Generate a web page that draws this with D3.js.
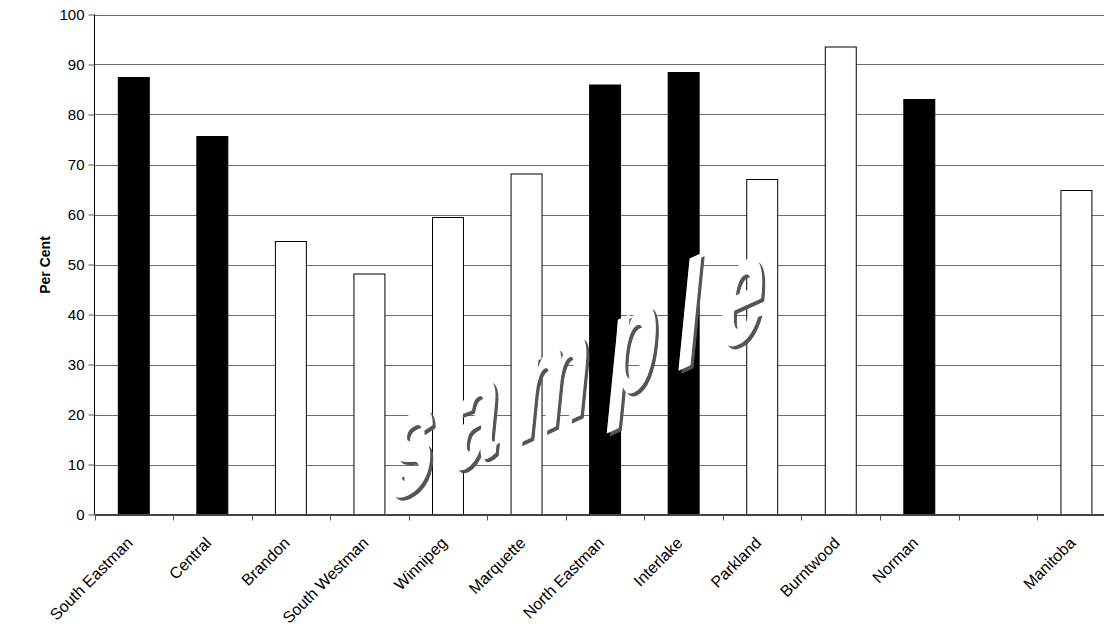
<!DOCTYPE html>
<html>
<head>
<meta charset="utf-8">
<script src="https://cdn.jsdelivr.net/npm/d3@7"></script>
<style>
  html, body { margin: 0; padding: 0; background: #fff; }
  svg { display: block; }
  text { font-family: "Liberation Sans", Arial, sans-serif; }
</style>
</head>
<body>
<svg id="chart" width="1104" height="627"></svg>
<script>
// Regions in display order; the blank slot separates the province total
const regions = ["South Eastman", "Central", "Brandon", "South Westman", "Winnipeg",
  "Marquette", "North Eastman", "Interlake", "Parkland", "Burntwood", "Norman", "", "Manitoba"];
// Per cent value for each region (null = no bar)
const percent = [87.5, 75.7, 54.7, 48.2, 59.5, 68.2, 86.0, 88.5, 67.1, 93.6, 83.1, null, 64.9];
// Bar style group: "dark" = solid black, "light" = white outlined
const barGroup = ["dark", "dark", "light", "light", "light", "light", "dark", "dark",
  "light", "light", "dark", "light", "light"];
const yTicks = [0, 10, 20, 30, 40, 50, 60, 70, 80, 90, 100];
const yTitle = "Per Cent";
const watermark = "sample";

const svg = d3.select("#chart");
const keys = regions.map((r, i) => i);

const plotLeft = 94.5, plotRight = 1115.7, plotTop = 14.5, plotBottom = 514.5;

const y = d3.scaleLinear().domain([0, 100]).range([plotBottom, plotTop]);
const xSlot = d3.scaleBand().domain(keys).range([plotLeft, plotRight]).padding(0);
const xBar = d3.scaleBand().domain(keys).range([plotLeft, plotRight])
  .paddingInner(0.593).paddingOuter(0.2965);

// horizontal gridlines
svg.append("g").selectAll("line").data(yTicks.filter(d => d > 0)).join("line")
  .attr("x1", plotLeft).attr("x2", 1104)
  .attr("y1", d => Math.round(y(d)) + 0.5).attr("y2", d => Math.round(y(d)) + 0.5)
  .attr("stroke", "#6e6e6e").attr("stroke-width", 1);

// y axis with outward ticks
const yAxis = svg.append("g").attr("transform", `translate(${plotLeft},0)`)
  .call(d3.axisLeft(y).tickValues(yTicks).tickSize(6).tickPadding(4));
yAxis.select(".domain").attr("stroke", "#000").attr("d", `M0,${plotTop}V${plotBottom}`);
yAxis.selectAll(".tick line").attr("stroke", "#555");
yAxis.selectAll(".tick text").attr("font-size", 15).attr("fill", "#000")
  .attr("font-family", "'Liberation Sans', Arial, sans-serif");

// y axis title
svg.append("text")
  .attr("transform", `translate(50,265) rotate(-90)`)
  .attr("text-anchor", "middle")
  .attr("font-size", 14).attr("font-weight", "bold")
  .text(yTitle);

// bars
svg.append("g").selectAll("rect")
  .data(keys.filter(i => percent[i] !== null)).join("rect")
  .attr("x", i => xBar(i) + 0.5)
  .attr("width", xBar.bandwidth() - 1)
  .attr("y", i => y(percent[i]) + 0.5)
  .attr("height", i => y(0) - y(percent[i]) - 0.5)
  .attr("fill", i => barGroup[i] === "dark" ? "#000" : "#fff")
  .attr("stroke", "#000").attr("stroke-width", 1);

// category axis: baseline, ticks at slot boundaries
const xAxis = svg.append("g");
xAxis.append("line")
  .attr("x1", plotLeft).attr("x2", 1104)
  .attr("y1", y(0) + 0.5).attr("y2", y(0) + 0.5)
  .attr("stroke", "#444").attr("stroke-width", 2);
xAxis.selectAll("line.tick").data(keys).join("line").attr("class", "tick")
  .attr("x1", i => Math.round(xSlot(i)) + 0.5).attr("x2", i => Math.round(xSlot(i)) + 0.5)
  .attr("y1", y(0)).attr("y2", y(0) + 6)
  .attr("stroke", "#555").attr("stroke-width", 1);
xAxis.selectAll("text").data(keys).join("text")
  .attr("transform", i => `translate(${xSlot(i) + xSlot.bandwidth() / 2},544) rotate(-45)`)
  .attr("text-anchor", "end")
  .attr("font-size", 16)
  .text(i => regions[i]);

// slanted "sample" overlay with drop shadow
const mark = svg.append("g").attr("transform", "translate(386,503)");
[["#555", 3, 3], ["#fff", 0, 0]].forEach(([fill, dx, dy]) => {
  mark.append("g").attr("transform", `translate(${dx},${dy}) skewY(-24.5) skewX(-6) scale(0.55,1)`)
    .append("text")
    .attr("font-size", 145)
    .attr("font-weight", "bold")
    .attr("letter-spacing", 36)
    .attr("fill", fill)
    .attr("stroke", fill)
    .attr("stroke-width", 2)
    .attr("stroke-linejoin", "round")
    .text(watermark);
});
</script>
</body>
</html>
